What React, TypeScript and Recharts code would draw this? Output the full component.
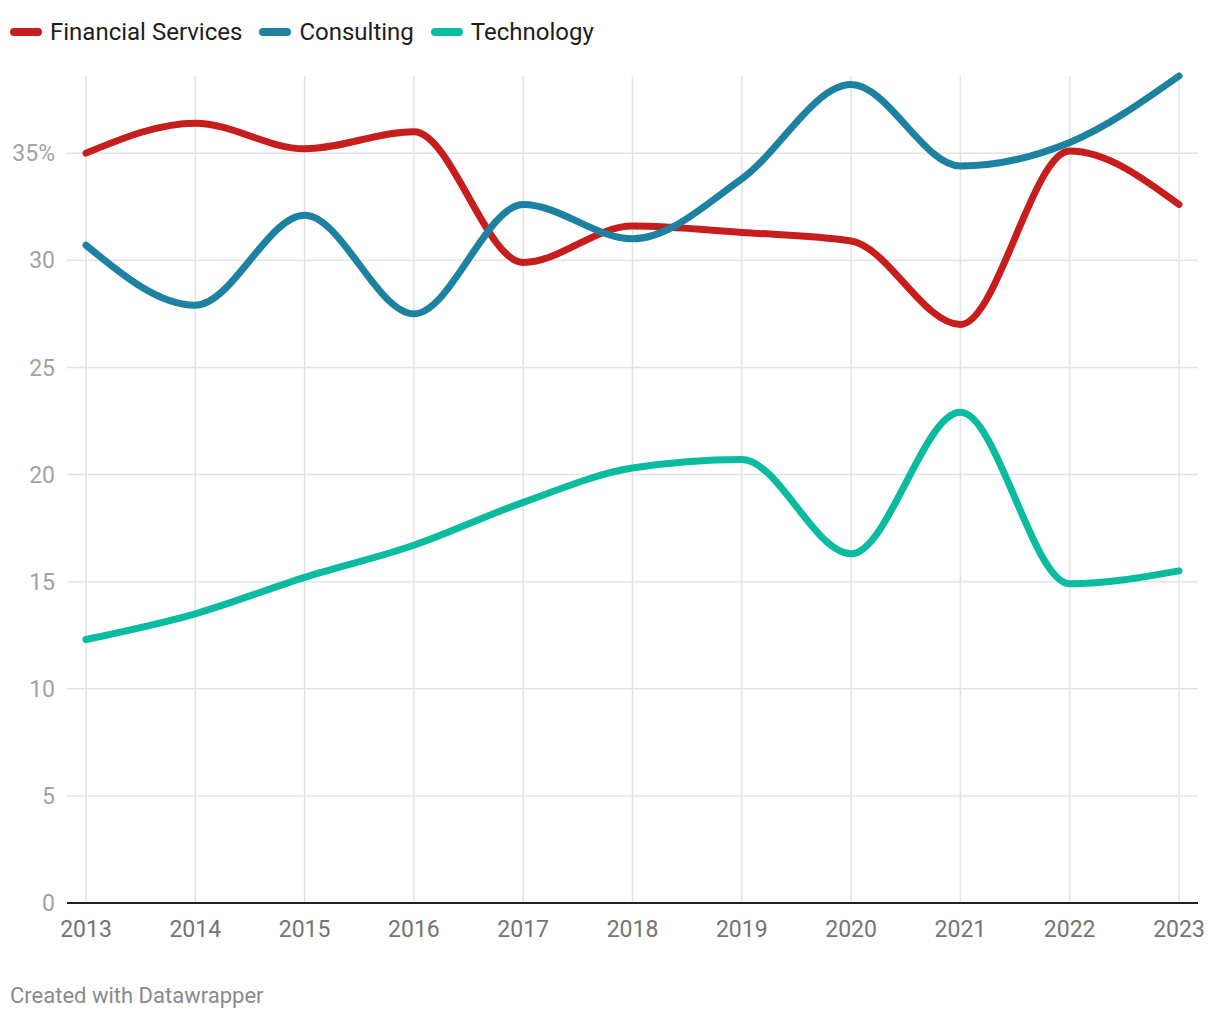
import { LineChart, Line, XAxis, YAxis, ReferenceLine } from 'recharts'

const years = [2013, 2014, 2015, 2016, 2017, 2018, 2019, 2020, 2021, 2022, 2023]
const financialServices = [35.0, 36.4, 35.2, 36.0, 29.9, 31.6, 31.3, 30.9, 27.0, 35.1, 32.6]
const consulting = [30.7, 27.9, 32.1, 27.5, 32.6, 31.0, 33.8, 38.2, 34.4, 35.5, 38.6]
const technology = [12.3, 13.5, 15.2, 16.7, 18.7, 20.3, 20.7, 16.3, 22.9, 14.9, 15.5]
const yTicks = [0, 5, 10, 15, 20, 25, 30, 35]

const SERIES = [
  { key: 'Financial Services', color: '#c71e1d' },
  { key: 'Consulting', color: '#1d81a2' },
  { key: 'Technology', color: '#09bb9f' },
]

const FONT = 'Roboto, sans-serif'
const GRID = '#e3e3e3'

export default function App() {
  const data = years.map((year, i) => ({
    year,
    'Financial Services': financialServices[i],
    Consulting: consulting[i],
    Technology: technology[i],
  }))

  return (
    <div style={{ position: 'absolute', left: 0, top: 0, width: 1220, height: 1020, background: '#fff', fontFamily: FONT }}>
      <div style={{ position: 'absolute', left: 10, top: 17, display: 'flex', alignItems: 'center', height: 30 }}>
        {SERIES.map(s => (
          <div key={s.key} style={{ display: 'flex', alignItems: 'center', marginRight: 17 }}>
            <span style={{ display: 'inline-block', width: 32, height: 8, borderRadius: 4, background: s.color, marginRight: 8 }} />
            <span style={{ fontSize: 24, color: '#1d1d1d' }}>{s.key}</span>
          </div>
        ))}
      </div>

      <div style={{ position: 'absolute', left: 0, top: 0 }}>
        <LineChart width={1220} height={960} data={data}
          margin={{ top: 76, right: 22, left: 7, bottom: 17 }}>
          <XAxis dataKey="year" type="number" domain={[2013, 2023]} ticks={years}
            padding={{ left: 19, right: 19 }} height={40}
            axisLine={false} tickLine={false} tickSize={0} tickMargin={18}
            tick={{ fontSize: 23, fontFamily: FONT, fill: '#747474' }} />
          <YAxis type="number" domain={[0, 38.6]} ticks={yTicks} width={60}
            axisLine={false} tickLine={false} tickSize={0} tickMargin={12}
            tickFormatter={(v) => (v === 35 ? '35%' : String(v))}
            tick={{ fontSize: 23, fontFamily: FONT, fill: '#a3a3a3' }} />
          {years.map(y => (
            <ReferenceLine key={'x' + y} x={y} stroke={GRID} strokeWidth={1.5} />
          ))}
          {yTicks.filter(t => t > 0).map(t => (
            <ReferenceLine key={'y' + t} y={t} stroke={GRID} strokeWidth={1.5} />
          ))}
          <ReferenceLine y={0} stroke="#222" strokeWidth={2} />
          {SERIES.map(s => (
            <Line key={s.key} dataKey={s.key} type="monotoneX" stroke={s.color} strokeWidth={7}
              strokeLinecap="round" strokeLinejoin="round" dot={false} activeDot={false}
              isAnimationActive={false} />
          ))}
        </LineChart>
      </div>

      <div style={{ position: 'absolute', left: 10, top: 983, fontSize: 22, color: '#8a8a8a' }}>
        Created with Datawrapper
      </div>
    </div>
  )
}
